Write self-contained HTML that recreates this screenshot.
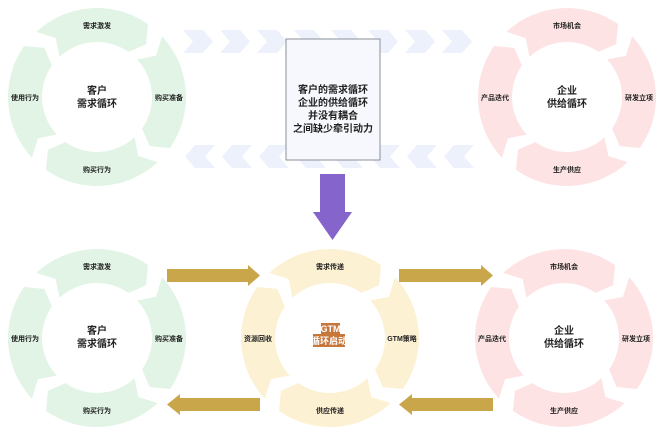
<!DOCTYPE html>
<html><head><meta charset="utf-8"><style>
html,body{margin:0;padding:0;background:#fff;}
svg{display:block;font-family:"Liberation Sans","Noto Sans CJK SC",sans-serif;}
</style></head><body>
<svg id="s" width="660" height="432" viewBox="0 0 660 432" xmlns="http://www.w3.org/2000/svg">
<g id="rings"></g>
<g id="chev"></g>
<rect x="286" y="39" width="94" height="121" fill="#f7f8fd" stroke="#8a8f99" stroke-width="1"/>
<g font-size="10" fill="#222" text-anchor="middle" font-weight="bold">
<text x="333" y="93">客户的需求循环</text>
<text x="333" y="106">企业的供给循环</text>
<text x="333" y="119">并没有耦合</text>
<text x="333" y="132">之间缺少牵引动力</text>
</g>
<polygon points="320,174 345,174 345,212 352,212 332.5,240 313,212 320,212" fill="#8564cc"/>
<g fill="#c9a64a">
<polygon points="167,269 248,269 248,265 260,275.5 248,286 248,282 167,282"/>
<polygon points="399,269 481,269 481,265 493,275.5 481,286 481,282 399,282"/>
<polygon points="260,398 180,398 180,394 167,404.5 180,415 180,411 260,411"/>
<polygon points="493,398 412,398 412,394 399,404.5 412,415 412,411 493,411"/>
</g>
<g id="labels" font-size="7" fill="#222" text-anchor="middle" font-weight="bold"></g>
<g font-size="10" fill="#222" text-anchor="middle" font-weight="bold">
<text x="97" y="94">客户</text><text x="97" y="107">需求循环</text>
<text x="567" y="94">企业</text><text x="567" y="107">供给循环</text>
<text x="97" y="334">客户</text><text x="97" y="347">需求循环</text>
<text x="564" y="334">企业</text><text x="564" y="347">供给循环</text>
</g>
<rect x="321" y="323" width="19" height="11" fill="#c8773a"/>
<rect x="313" y="334" width="32" height="13" fill="#c8773a"/>
<g font-size="9" fill="#fff" text-anchor="middle" font-weight="bold">
<text x="330.5" y="332">GTM</text><text x="329" y="344">循环启动</text>
</g>
</svg>
<script>
var NS="http://www.w3.org/2000/svg";
function P(cx,cy,r,a){a=a*Math.PI/180;return (cx+r*Math.cos(a)).toFixed(1)+","+(cy+r*Math.sin(a)).toFixed(1);}
function ring(cx,cy,col,labels){
 var R=89,r=55,m=72,g=document.getElementById("rings"),L=document.getElementById("labels");
 [-90,0,90,180].forEach(function(c,i){
  var s=c-43,e=c+35;
  var d="M"+P(cx,cy,R,s)+" A"+R+","+R+" 0 0 1 "+P(cx,cy,R,e)+" L"+P(cx,cy,m,e+8)+" L"+P(cx,cy,r,e)+
   " A"+r+","+r+" 0 0 0 "+P(cx,cy,r,s)+" L"+P(cx,cy,m,s+8)+" Z";
  var p=document.createElementNS(NS,"path");p.setAttribute("d",d);p.setAttribute("fill",col);g.appendChild(p);
  var t=document.createElementNS(NS,"text");var a=c*Math.PI/180;
  t.setAttribute("x",(cx+m*Math.cos(a)).toFixed(1));t.setAttribute("y",(cy+m*Math.sin(a)+3).toFixed(1));
  t.textContent=labels[i];L.appendChild(t);
 });
}
ring(97,97,"#e1f4e5",["需求激发","购买准备","购买行为","使用行为"]);
ring(567,97,"#fde3e3",["市场机会","研发立项","生产供应","产品迭代"]);
ring(97,338,"#e1f4e5",["需求激发","购买准备","购买行为","使用行为"]);
ring(330,338,"#fdf1d3",["需求传递","GTM策略","供应传递","资源回收"]);
ring(564,338,"#fde3e3",["市场机会","研发立项","生产供应","产品迭代"]);
var C=document.getElementById("chev");
for(var i=0;i<8;i++){
 var x=183+i*37;
 var p=document.createElementNS(NS,"polygon");
 p.setAttribute("points",x+",30 "+(x+20)+",30 "+(x+30)+",41.5 "+(x+20)+",53 "+x+",53 "+(x+10)+",41.5");
 p.setAttribute("fill","#edf1fb");C.appendChild(p);
 var q=document.createElementNS(NS,"polygon");var y=x+2;
 q.setAttribute("points",(y+30)+",145 "+(y+10)+",145 "+y+",156.5 "+(y+10)+",168 "+(y+30)+",168 "+(y+20)+",156.5");
 q.setAttribute("fill","#edf1fb");C.appendChild(q);
}
</script>
</body></html>
